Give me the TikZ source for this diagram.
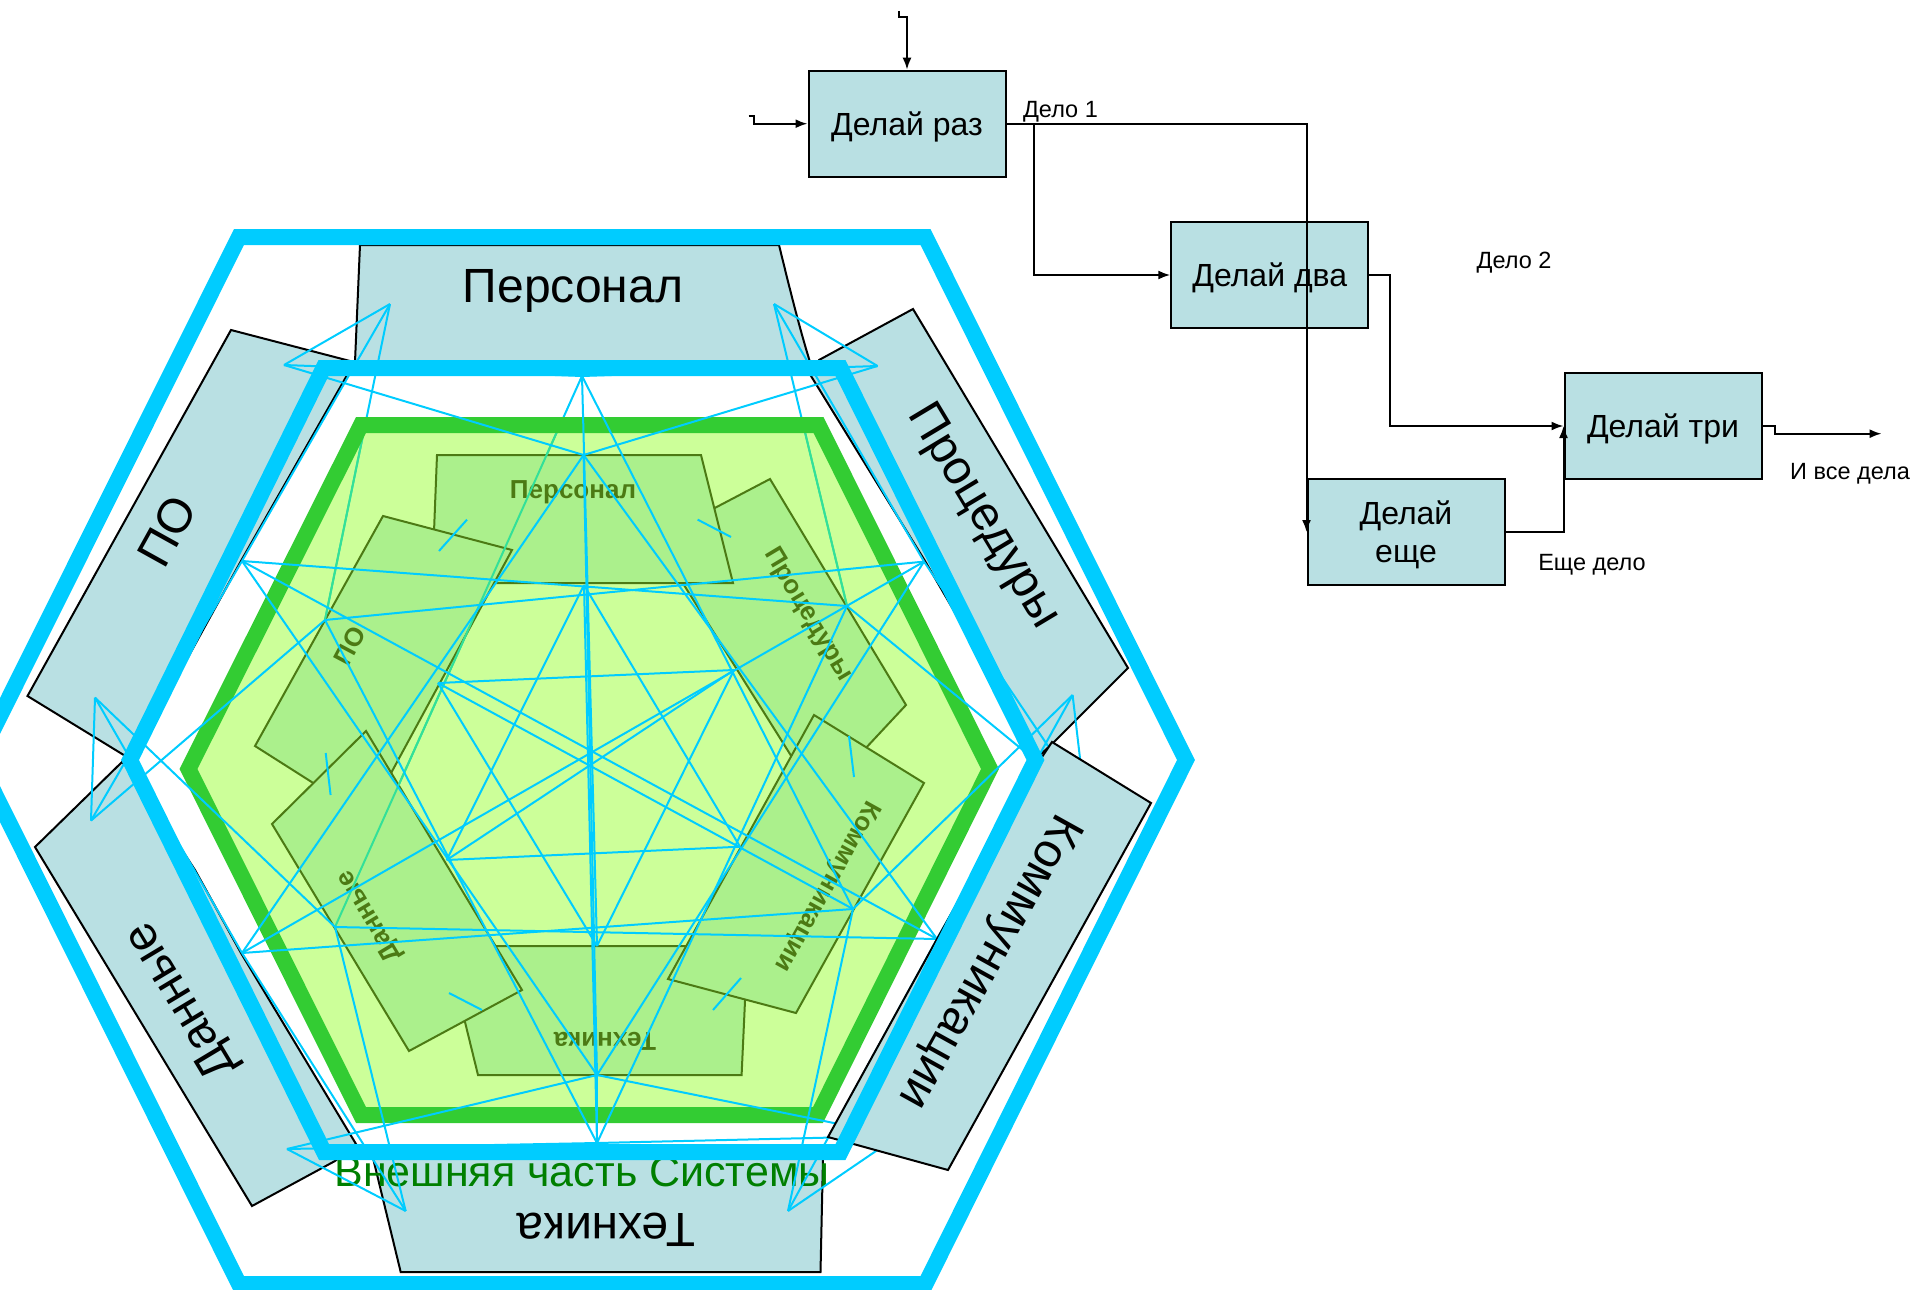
\documentclass[tikz,border=0pt]{standalone}
\usepackage{fontspec}
\setmainfont{Liberation Sans}
\usetikzlibrary{arrows.meta}
\definecolor{stripc}{HTML}{B9E0E3}
\definecolor{bandc}{HTML}{00CCFF}
\definecolor{hexc}{HTML}{33CC33}
\definecolor{hexf}{HTML}{80FF00}
\definecolor{blockc}{HTML}{ABF08C}
\definecolor{blockd}{HTML}{4C7A14}
\definecolor{tealc}{HTML}{33E099}
\definecolor{outc}{HTML}{007F00}
\tikzset{
    strip/.style={draw=black,fill=stripc,line width=2pt},
    block/.style={draw=blockd,fill=blockc,line width=2pt},
    band/.style={draw=bandc,line width=16pt,miter limit=10},
    link/.style={draw=bandc,line width=2pt},
    biglab/.style={font=\fontsize{48}{50}\selectfont},
    smalllab/.style={font=\fontsize{26}{28}\selectfont\bfseries,text=blockd},
    act/.style={draw=black,fill=stripc,line width=2pt,minimum width=197pt,minimum height=106pt,
        align=center,font=\fontsize{32}{38}\selectfont,inner sep=0pt,text depth=0pt},
    flow/.style={draw=black,line width=2pt,-{Latex[length=12pt,width=9pt]}},
    wire/.style={draw=black,line width=2pt},
    note/.style={font=\fontsize{23.5}{26}\selectfont,inner sep=0pt},
}
\begin{document}
\begin{tikzpicture}[x=1pt,y=-1pt]
    \useasboundingbox (0,0) rectangle (1917,1290);

    % outer strips
    \draw[strip] (360,245) -- (355,362) -- (810,362) .. controls (800,330) and (790,290) .. (779,245) -- cycle;
    \draw[strip] (231,330) -- (350,361) -- (346,377) -- (241,561) -- (170,690) -- (127,757) -- (27.5,696) -- cycle;
    \draw[strip] (913,309) -- (819,360) -- (811,376) -- (925,561) -- (1000,690) -- (1040,755) -- (1053,743) -- (1128,668) -- cycle;
    \draw[strip] (122,762) -- (35,847) -- (252,1206) -- (335,1161) -- (356,1144) -- (241,953) -- (195,870) -- (130,770) -- cycle;
    \draw[strip] (373,1158) -- (823,1158) -- (820.5,1272) -- (400.7,1272) -- cycle;
    \node[biglab] (persbig) at (573,291) {Персонал};
    \node[biglab,rotate=61] (pobig) at (167,531) {ПО};
    \node[biglab,rotate=-59] (procbig) at (983,517) {Процедуры};
    \node[biglab,rotate=121] (databig) at (182,1000) {Данные};
    \node[biglab,rotate=180] (techbig) at (606,1230) {Техника};
    \node[font=\fontsize{43}{45}\selectfont,text=outc,anchor=base] (outer) at (582,1186) {Внешняя часть Системы};

    % ports on the strips
    \coordinate (a1) at (390,304);
    \coordinate (a2) at (284,365);
    \coordinate (b1) at (774,304);
    \coordinate (b2) at (877.5,366);
    \coordinate (e1) at (95,697.6);
    \coordinate (d1) at (91,820.6);
    \coordinate (f1) at (1072.6,695);
    \coordinate (f2) at (1085,801);
    \coordinate (g1) at (287,1149);
    \coordinate (g2) at (405.7,1211);
    \coordinate (h1) at (788,1211);
    \coordinate (h2) at (898,1136);
    % ports on the inner ring
    \coordinate (t0) at (582,376);
    \coordinate (ty) at (597,1143);
    \coordinate (l1) at (242,561);
    \coordinate (r1) at (924,561.6);
    \coordinate (l2) at (242,953);
    \coordinate (r2) at (937,939);
    % ports on the blocks
    \coordinate (p) at (583.6,455);
    \coordinate (y) at (597,1075);
    \coordinate (pon) at (325,620);
    \coordinate (prn) at (847,606);
    \coordinate (dn) at (335,927);
    \coordinate (kn) at (853,909);
    \coordinate (q) at (584,585);
    \coordinate (x) at (597,946);
    \coordinate (u) at (438,683);
    \coordinate (v) at (446.7,860);
    \coordinate (rr) at (734,670);
    \coordinate (w) at (740,846.7);

    \draw[link] (a1) -- (pon);
    \draw[link] (b1) -- (prn);
    \draw[link] (t0) -- (dn);

    % inner hexagon with its blocks
    \filldraw[fill=hexf,fill opacity=0.4,draw=none] (361,425) -- (818.5,425) -- (990,769) -- (818,1115) -- (361,1115) -- (188.5,769) -- cycle;
    \draw[block] (770,479) -- (906,705) -- (850,765) -- (800,770) -- (684,585) -- (690,521) -- cycle;
    \draw[block] (437,455) -- (701,455) -- (733,583) -- (432,583) -- cycle;
    \draw[block] (383,516) -- (512,550) -- (390,775) -- (340,800) -- (255,746) -- cycle;
    \draw[block] (460,946) -- (750,946) -- (745,1001) -- (741.6,1075) -- (478,1075) -- (465,1022) -- cycle;
    \draw[block] (366,731) -- (522,990) -- (409,1051) -- (272,824) -- cycle;
    \draw[block] (814,715) -- (924,783) -- (796,1013) -- (668,979) -- cycle;
    \node[smalllab] (perssm) at (573,492) {Персонал};
    \node[smalllab,rotate=-59] (procsm) at (808,615) {Процедуры};
    \node[smalllab,rotate=62] (posm) at (350,646) {ПО};
    \node[smalllab,rotate=121] (datasm) at (370,916) {Данные};
    \node[smalllab,rotate=-119] (commsm) at (827,886) {Коммуникации};
    \node[smalllab,rotate=180] (techsm) at (605,1041) {Техника};

    \begin{scope}
    \clip (365.5,433) -- (813.5,433) -- (981.5,769) -- (813,1107) -- (365.5,1107) -- (197,769) -- cycle;
    \draw[line width=2pt,tealc] (a1) -- (pon);
    \draw[line width=2pt,tealc] (b1) -- (prn);
    \draw[line width=2pt,tealc] (t0) -- (dn);
    \end{scope}
    \draw[hexc,line width=16pt,miter limit=10] (361,425) -- (818.5,425) -- (990,769) -- (818,1115) -- (361,1115) -- (188.5,769) -- cycle;

    % thin links
    \foreach \from/\to in {a1/a2,a2/p,a2/t0,a1/l1,b1/b2,b2/p,b2/t0,b1/r1,
        e1/d1,e1/dn,e1/l2,d1/pon,d1/l1,f1/f2,f1/kn,f1/r2,f2/prn,f2/r1,
        g1/g2,g1/y,g1/ty,g2/dn,g2/l2,h1/h2,h1/kn,h1/r2,h2/y,h2/ty,
        t0/x,t0/kn,ty/q,ty/y,ty/pon,ty/prn,p/y,p/l2,p/r2,l1/y,r1/y,
        l1/prn,pon/r1,dn/r2,l2/kn,l1/r2,l2/r1,
        u/rr,u/kn,u/x,v/rr,v/w,v/q,rr/x,w/q}
        \draw[link] (\from) -- (\to);
    \draw[link] (467,519.6) -- (439,551);
    \draw[link] (697.6,519.6) -- (731,537);
    \draw[link] (849,736) -- (854,777);
    \draw[link] (741,978) -- (713,1010);
    \draw[link] (449,993) -- (482,1010);
    \draw[link] (325.7,753) -- (330.6,795);

    % last strip lies over the links
    \draw[strip] (1052,742) -- (1151,803) -- (948,1170) -- (828,1137) -- (937,939) -- (1030,775) -- cycle;
    \node[biglab,rotate=-119] (commbig) at (988,961) {Коммуникации};

    % the two blue rings
    \draw[band] (239,237) -- (925.5,237) -- (1186,760) -- (925.5,1284) -- (239,1284) -- (-22,760) -- cycle;
    \draw[band] (323.5,368) -- (840.5,368) -- (1035.5,760) -- (840.5,1152) -- (324,1152) -- (130,760) -- cycle;

    % flow part
    \node[act] (one) at (907,123.7) {Делай раз};
    \node[act] (two) at (1269.8,275) {Делай два};
    \node[act] (three) at (1663,426) {Делай три};
    \node[act] (more) at (1406,532) {Делай\\еще};

    \coordinate (intop) at (899,11);
    \coordinate (inleft) at (748.7,116);
    \coordinate (forkone) at (1034,123.7);
    \coordinate (exit) at (1881.6,433.7);

    \draw[flow] (intop) -- ++(0,5.7) -| (one.north);
    \draw[flow] (inleft) -- ++(5.7,0) |- (one.west);
    \draw[flow] (one.east) -| (more.west);
    \draw[flow] (forkone) |- (two.west);
    \draw[flow] (two.east) -- ++(21,0) |- (three.west);
    \draw[flow] (more.east) -| (three.west);
    \draw[flow] (three.east) -- ++(12.3,0) |- (exit);

    \node[note] (deal1) at (1060.5,111.5) {Дело 1};
    \node[note] (deal2) at (1514,262.5) {Дело 2};
    \node[note] (dealmore) at (1592,564.5) {Еще дело};
    \node[note] (dealall) at (1850,474) {И все дела};
\end{tikzpicture}
\end{document}
